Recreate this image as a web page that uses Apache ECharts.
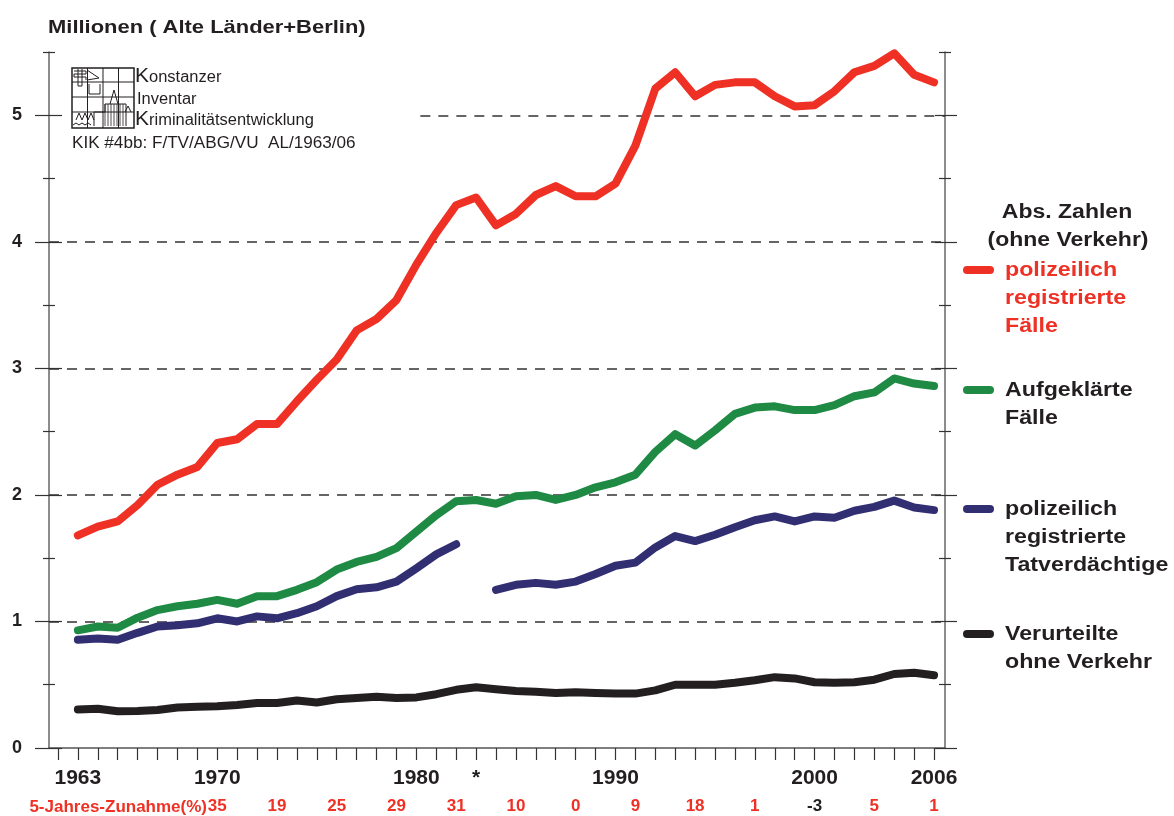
<!DOCTYPE html>
<html><head><meta charset="utf-8">
<script src="https://cdn.jsdelivr.net/npm/echarts@6/dist/echarts.min.js"></script>
<style>html,body{margin:0;padding:0;background:#fff}#c{width:1174px;height:816px}</style>
</head><body><div id="c"></div>
<script>
// ---- data ----
const years = [1963,1964,1965,1966,1967,1968,1969,1970,1971,1972,1973,1974,1975,1976,1977,1978,1979,1980,1981,1982,1983,1984,1985,1986,1987,1988,1989,1990,1991,1992,1993,1994,1995,1996,1997,1998,1999,2000,2001,2002,2003,2004,2005,2006];
const faelle = [1.68,1.75,1.79,1.92,2.08,2.16,2.22,2.41,2.44,2.56,2.56,2.74,2.91,3.07,3.30,3.39,3.54,3.82,4.07,4.29,4.35,4.13,4.22,4.37,4.44,4.36,4.36,4.46,4.76,5.21,5.34,5.15,5.24,5.26,5.26,5.15,5.07,5.08,5.19,5.34,5.39,5.49,5.32,5.26];
const aufgeklaert = [0.93,0.96,0.95,1.03,1.09,1.12,1.14,1.17,1.14,1.20,1.20,1.25,1.31,1.41,1.47,1.51,1.58,1.71,1.84,1.95,1.96,1.93,1.99,2.00,1.96,2.00,2.06,2.10,2.16,2.34,2.48,2.39,2.51,2.64,2.69,2.70,2.67,2.67,2.71,2.78,2.81,2.92,2.88,2.86];
const tatverdaechtige = [0.855,0.865,0.855,0.91,0.96,0.97,0.985,1.025,1.00,1.04,1.025,1.065,1.12,1.20,1.255,1.27,1.315,1.42,1.53,1.61,null,1.25,1.29,1.305,1.29,1.315,1.375,1.44,1.465,1.585,1.675,1.635,1.685,1.745,1.80,1.83,1.79,1.83,1.82,1.875,1.905,1.955,1.90,1.88];
const verurteilte = [0.305,0.31,0.29,0.292,0.30,0.32,0.325,0.33,0.34,0.355,0.355,0.375,0.36,0.385,0.395,0.405,0.395,0.40,0.425,0.46,0.48,0.465,0.45,0.445,0.435,0.44,0.435,0.43,0.43,0.455,0.50,0.50,0.50,0.515,0.535,0.56,0.55,0.52,0.515,0.52,0.54,0.585,0.595,0.575];
const yearLabels = [1963,1970,1980,1983,1990,2000,2006];   // 1983 shown as "*"
const yLabels = [0,1,2,3,4,5];
const yMinor = [0.5,1.5,2.5,3.5,4.5,5.5];
const zunahmeYears = [1970,1973,1976,1979,1982,1985,1988,1991,1994,1997,2000,2003,2006];
const zunahme = [35,19,25,29,31,10,0,9,18,1,-3,5,1];
const gridValues = [1,2,3,4];
const seriesNames = ['polizeilich\nregistrierte\nFälle','Aufgeklärte\nFälle','polizeilich\nregistrierte\nTatverdächtige','Verurteilte\nohne Verkehr'];
const colors = ['#ee3124','#1e8a43','#322e72','#231f20'];

const tickYears = [];
for (let y = 1962; y <= 2006; y++) tickYears.push(y);

const FONT = "'Liberation Sans', Arial, Helvetica, sans-serif";
const DARK = '#231f20';
const XMIN = 1961.55, XMAX = 2006.55;

function yAx(pos, inside, len, vals, extra) {
  return Object.assign({
    type: 'value', min: 0, max: 5.5, position: pos,
    axisLine: { show: false },
    axisTick: { show: true, inside: inside, length: len, customValues: vals, lineStyle: { color: '#333', width: 1.2 } },
    axisLabel: { show: false },
    splitLine: { show: false }
  }, extra || {});
}

const chart = echarts.init(document.getElementById('c'));
const toPairs = arr => years.map((y, i) => [y, arr[i]]);
const dataSets = [faelle, aufgeklaert, tatverdaechtige, verurteilte];

const series = [{
  type: 'line', data: [], z: 1, silent: true,
  markLine: {
    silent: true, symbol: ['none','none'], label: { show: false }, animation: false,
    lineStyle: { type: [10, 8], color: '#333', width: 1.5 },
    data: gridValues.map(v => ({ yAxis: v })).concat([[{ coord: [1980.2, 5] }, { coord: [XMAX, 5] }]])
  }
}];
dataSets.forEach((arr, i) => {
  series.push({
    type: 'line', name: seriesNames[i], data: toPairs(arr), showSymbol: false, symbol: 'none',
    connectNulls: false, z: 5, animation: false,
    lineStyle: { color: colors[i], width: 8, cap: 'round', join: 'round' }
  });
});

const bold = (sz, col) => ({ font: `bold ${sz}px ${FONT}`, fill: col || DARK });

const graphics = [
  { type: 'text', x: 48, y: 28, scaleX: 1.155, style: Object.assign({ text: 'Millionen ( Alte Länder+Berlin)', verticalAlign: 'middle' }, bold(19)) },
  // logo texts
  { type: 'text', x: 135, y: 87, style: { text: 'K', font: `21px ${FONT}`, fill: DARK, verticalAlign: 'bottom' } },
  { type: 'text', x: 149, y: 86, scaleX: 1.03, style: { text: 'onstanzer', font: `16px ${FONT}`, fill: DARK, verticalAlign: 'bottom' } },
  { type: 'text', x: 137, y: 108, scaleX: 1.03, style: { text: 'Inventar', font: `16px ${FONT}`, fill: DARK, verticalAlign: 'bottom' } },
  { type: 'text', x: 135, y: 130, style: { text: 'K', font: `21px ${FONT}`, fill: DARK, verticalAlign: 'bottom' } },
  { type: 'text', x: 149, y: 129, scaleX: 1.03, style: { text: 'riminalitätsentwicklung', font: `16px ${FONT}`, fill: DARK, verticalAlign: 'bottom' } },
  { type: 'text', x: 72, y: 144, scaleX: 1.07, style: { text: 'KIK #4bb: F/TV/ABG/VU  AL/1963/06', font: `16px ${FONT}`, fill: DARK, verticalAlign: 'middle' } },
  // logo drawing
  { type: 'group', x: 72, y: 68, children: [
    { type: 'rect', shape: { x: 0, y: 0, width: 62, height: 60 }, style: { fill: 'none', stroke: DARK, lineWidth: 1.5 } },
    { type: 'line', shape: { x1: 15.5, y1: 0, x2: 15.5, y2: 60 }, style: { stroke: DARK, lineWidth: 1 } },
    { type: 'line', shape: { x1: 31, y1: 0, x2: 31, y2: 60 }, style: { stroke: DARK, lineWidth: 1 } },
    { type: 'line', shape: { x1: 46.5, y1: 0, x2: 46.5, y2: 60 }, style: { stroke: DARK, lineWidth: 1 } },
    { type: 'line', shape: { x1: 0, y1: 14, x2: 62, y2: 14 }, style: { stroke: DARK, lineWidth: 1 } },
    { type: 'line', shape: { x1: 0, y1: 29, x2: 62, y2: 29 }, style: { stroke: DARK, lineWidth: 1 } },
    { type: 'line', shape: { x1: 0, y1: 44, x2: 62, y2: 44 }, style: { stroke: DARK, lineWidth: 1 } },
    { type: 'polyline', shape: { points: [[2,3],[14,3],[14,6],[2,6],[2,9],[14,9],[14,12]] }, style: { stroke: DARK, fill: 'none', lineWidth: 1 } },
    { type: 'polyline', shape: { points: [[6,1],[6,18],[10,18],[10,1]] }, style: { stroke: DARK, fill: 'none', lineWidth: 1 } },
    { type: 'polyline', shape: { points: [[15,2],[27,10],[15,12]] }, style: { stroke: DARK, fill: 'none', lineWidth: 1 } },
    { type: 'polyline', shape: { points: [[17,16],[17,26],[28,26],[28,16]] }, style: { stroke: DARK, fill: 'none', lineWidth: 1 } },
    { type: 'polyline', shape: { points: [[38,36],[42,22],[46,36]] }, style: { stroke: DARK, fill: 'none', lineWidth: 1 } },
    { type: 'polyline', shape: { points: [[22,58],[22,44],[33,44],[33,36],[54,36],[54,58]] }, style: { stroke: DARK, fill: 'none', lineWidth: 1 } },
    { type: 'group', children: [33,36,39,42,45,48,51].map(x => ({ type: 'line', shape: { x1: x, y1: 36, x2: x, y2: 58 }, style: { stroke: DARK, lineWidth: 0.8 } })) },
    { type: 'polyline', shape: { points: [[4,52],[7,45],[10,52],[13,45],[16,52],[19,45],[22,52]] }, style: { stroke: DARK, fill: 'none', lineWidth: 1 } },
    { type: 'polyline', shape: { points: [[53,44],[56,38],[59,44]] }, style: { stroke: DARK, fill: 'none', lineWidth: 1 } },
    { type: 'polyline', shape: { points: [[1,57],[4,55],[7,57],[10,55],[13,57],[16,55],[19,57]] }, style: { stroke: DARK, fill: 'none', lineWidth: 1 } }
  ]},
  // legend
  { type: 'text', x: 1067, y: 212, scaleX: 1.15, style: Object.assign({ text: 'Abs. Zahlen', align: 'center', verticalAlign: 'middle' }, bold(20)) },
  { type: 'text', x: 1068, y: 240, scaleX: 1.15, style: Object.assign({ text: '(ohne Verkehr)', align: 'center', verticalAlign: 'middle' }, bold(20)) },
  // 5-Jahres label
  { type: 'text', x: 207, y: 807, style: Object.assign({ text: '5-Jahres-Zunahme(%)', align: 'right', verticalAlign: 'middle' }, bold(17, '#ee3124')) }
];
const legendY = [270, 390, 509, 634];
seriesNames.forEach((n, i) => {
  graphics.push({ type: 'line', shape: { x1: 967, y1: legendY[i], x2: 990, y2: legendY[i] }, style: { stroke: colors[i], lineWidth: 8, lineCap: 'round' } });
  graphics.push({ type: 'text', x: 1005, y: legendY[i] - 14, scaleX: 1.16,
    style: Object.assign({ text: n, verticalAlign: 'top', lineHeight: 28 }, bold(20, i === 0 ? '#ee3124' : DARK)) });
});

chart.setOption({
  animation: false,
  backgroundColor: '#fff',
  grid: { left: 49, right: 229, top: 52, height: 696, containLabel: false },
  xAxis: [{
    type: 'value', min: XMIN, max: XMAX, position: 'bottom',
    axisLine: { show: true, onZero: false, lineStyle: { color: '#555', width: 1.5 } },
    axisTick: { show: true, length: 12, customValues: tickYears, lineStyle: { color: '#333', width: 1.2 } },
    axisLabel: { customValues: yearLabels, margin: 20, formatter: v => v === 1983 ? '*' : String(v),
      fontFamily: FONT, fontWeight: 'bold', fontSize: 21, color: DARK },
    splitLine: { show: false }
  }, {
    type: 'value', min: XMIN, max: XMAX, position: 'bottom',
    axisLine: { show: false }, axisTick: { show: false }, splitLine: { show: false },
    axisLabel: { customValues: zunahmeYears, margin: 50,
      formatter: v => { const z = zunahme[zunahmeYears.indexOf(v)]; return (z < 0 ? '{k|' : '{r|') + z + '}'; },
      rich: {
        r: { color: '#ee3124', fontFamily: FONT, fontWeight: 'bold', fontSize: 17 },
        k: { color: DARK, fontFamily: FONT, fontWeight: 'bold', fontSize: 17 }
      } }
  }],
  yAxis: [
    yAx('left', false, 14, yLabels, {
      axisLine: { show: true, lineStyle: { color: '#666', width: 1.5 } },
      axisLabel: { show: true, customValues: yLabels, margin: 27, formatter: v => String(v),
        fontFamily: FONT, fontWeight: 'bold', fontSize: 18, color: DARK }
    }),
    yAx('left', true, 13, yLabels),
    yAx('left', false, 6, yMinor),
    yAx('left', true, 6, yMinor),
    yAx('right', false, 12, yLabels, { axisLine: { show: true, lineStyle: { color: '#666', width: 1.5 } } }),
    yAx('right', true, 10, yLabels),
    yAx('right', false, 6, yMinor),
    yAx('right', true, 6, yMinor)
  ],
  series: series,
  graphic: graphics
});
</script></body></html>
